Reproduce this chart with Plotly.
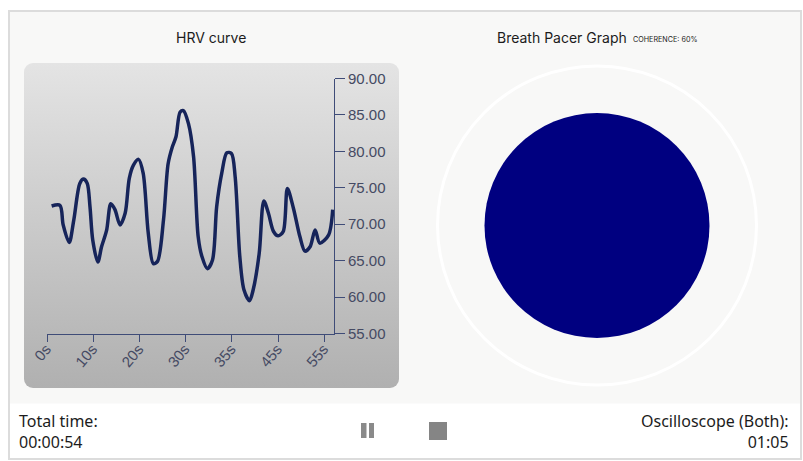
import base64
import plotly.graph_objects as go

W, H = 803, 461

# Chart data
sample_pos = [1.0, 2.8, 3.5, 4.8, 5.8, 7.1, 7.9, 8.7, 9.3, 9.9, 11.0, 11.8, 12.9, 13.8, 14.7,
              15.8, 16.9, 17.8, 18.7, 19.8, 20.8, 21.9, 23.0, 23.9, 25.2, 26.2, 27.1, 27.9,
              28.8, 29.5, 30.6, 31.7, 32.7, 33.5, 34.7, 35.8, 36.7, 37.8, 38.9, 39.9, 40.7,
              41.7, 42.6, 43.8, 44.6, 45.9, 46.9, 47.9, 49.0, 50.0, 51.1, 52.0, 53.3, 54.7,
              55.8, 56.9, 58.0, 59.0, 60.9, 61.8]
hrv_values = [72.5, 72.6, 69.9, 67.5, 70.6, 75.6, 76.2, 75.6, 72.4, 67.8, 64.8, 66.9, 69.2, 72.8,
              72.0, 69.9, 71.5, 76.3, 78.1, 78.9, 77.0, 68.8, 64.6, 64.9, 70.6, 78.3, 80.6, 82.0,
              85.4, 85.6, 83.8, 79.3, 68.3, 65.6, 63.9, 65.1, 72.4, 77.0, 79.8, 79.7, 76.5,
              65.6, 61.0, 59.5, 61.0, 66.0, 73.2, 71.5, 69.0, 68.4, 69.0, 74.9, 72.2, 68.3,
              66.3, 66.9, 69.2, 67.4, 68.5, 72.0]
x_tick_vals = [0, 10, 20, 30, 40, 50, 60]
x_tick_text = ["0s", "10s", "20s", "30s", "35s", "45s", "55s"]
y_tick_vals = [55, 60, 65, 70, 75, 80, 85, 90]
y_tick_text = ["55.00", "60.00", "65.00", "70.00", "75.00", "80.00", "85.00", "90.00"]
title_left = "HRV curve"
title_right = "Breath Pacer Graph"
coherence = "COHERENCE: 60%"
total_label, total_value = "Total time:", "00:00:54"
osc_label, osc_value = "Oscilloscope (Both):", "01:05"


def px(x):
    return x / W


def py(y):
    return 1 - y / H


def rect(x0, y0, x1, y1, fill):
    return dict(type="rect", xref="paper", yref="paper", x0=px(x0), x1=px(x1), y0=py(y0), y1=py(y1),
                fillcolor=fill, line=dict(color=fill, width=0), layer="above")


def circle(cx, cy, r, fill, line=None, width=0):
    return dict(type="circle", xref="paper", yref="paper", x0=px(cx - r), x1=px(cx + r),
                y0=py(cy - r), y1=py(cy + r), fillcolor=fill,
                line=dict(color=line or "rgba(0,0,0,0)", width=width), layer="below")


def label(x, y, text, size, font, color="#1c1c1c", anchor="left"):
    return dict(xref="paper", yref="paper", x=px(x), y=py(y), text=text, showarrow=False,
                xanchor=anchor, align=anchor, yanchor="middle",
                font=dict(size=size, family=font, color=color))


page_svg = (
    f'<svg xmlns="http://www.w3.org/2000/svg" width="{W}" height="{H}" viewBox="0 0 {W} {H}">'
    '<defs><linearGradient id="g" x1="0" y1="0" x2="0" y2="1">'
    '<stop offset="0" stop-color="#e4e4e4"/><stop offset="1" stop-color="#b0b0b0"/>'
    '</linearGradient></defs>'
    '<rect width="803" height="461" fill="#ffffff"/>'
    '<rect x="9" y="11" width="792" height="448" fill="#ffffff" stroke="#dcdcdc" stroke-width="2"/>'
    '<rect x="10" y="12" width="790" height="391.5" fill="#f8f8f7"/>'
    '<rect x="24" y="63" width="375" height="325" rx="9" ry="9" fill="url(#g)"/></svg>'
)
page_src = "data:image/svg+xml;base64," + base64.b64encode(page_svg.encode()).decode()

fig = go.Figure(go.Scatter(
    x=sample_pos, y=hrv_values, mode="lines",
    line=dict(color="#16245a", width=3.5, shape="spline", smoothing=0.85),
    hoverinfo="skip", cliponaxis=False,
))

AX = "#3f4c78"
TXT = "#454a63"
fig.update_layout(
    width=W, height=H, margin=dict(l=0, r=0, t=0, b=0, autoexpand=False),
    paper_bgcolor="#ffffff", plot_bgcolor="rgba(0,0,0,0)", showlegend=False,
    xaxis=dict(domain=[px(47), px(334)], range=[0, 62.08], tickmode="array",
               tickvals=x_tick_vals, ticktext=x_tick_text, tickangle=-50,
               ticks="outside", ticklen=7, tickcolor=AX, tickwidth=1,
               ticklabelstandoff=-7, ticklabelshift=-1, automargin=False,
               showline=True, linecolor=AX, linewidth=1, showgrid=False, zeroline=False,
               tickfont=dict(family="Liberation Sans", size=15, color=TXT), anchor="y"),
    yaxis=dict(domain=[py(333.5), py(78.5)], range=[55, 90], side="right", tickmode="array",
               tickvals=y_tick_vals, ticktext=y_tick_text, automargin=False,
               ticks="outside", ticklen=10, tickcolor=AX, tickwidth=1,
               showline=True, linecolor=AX, linewidth=1, showgrid=False, zeroline=False,
               tickfont=dict(family="Liberation Sans", size=15, color=TXT), anchor="x"),
    images=[dict(source=page_src, xref="paper", yref="paper", x=0, y=1,
                 sizex=1, sizey=1, xanchor="left", yanchor="top",
                 sizing="stretch", layer="below")],
    shapes=[
        circle(597, 225.5, 159.5, "rgba(0,0,0,0)", "#ffffff", 3),
        circle(597, 225.5, 112.5, "#000080"),
        rect(361, 423, 366.5, 438, "#8a8a8a"),
        rect(369, 423, 374, 438, "#8a8a8a"),
        rect(429, 422, 447, 440, "#858585"),
    ],
    annotations=[
        label(211, 37, title_left, 14, "Inter", anchor="center"),
        label(495, 37, title_right, 14, "Inter"),
        label(631, 39.5, coherence, 7.2, "Inter"),
        label(17, 431, total_label + "<br>" + total_value, 16, "Noto Sans"),
        label(791, 431, osc_label + "<br>" + osc_value, 16, "Noto Sans", anchor="right"),
    ],
)
fig.write_html("out.html", config=dict(displayModeBar=False),
               post_script="document.body.style.margin='0';document.body.style.overflow='hidden';")
